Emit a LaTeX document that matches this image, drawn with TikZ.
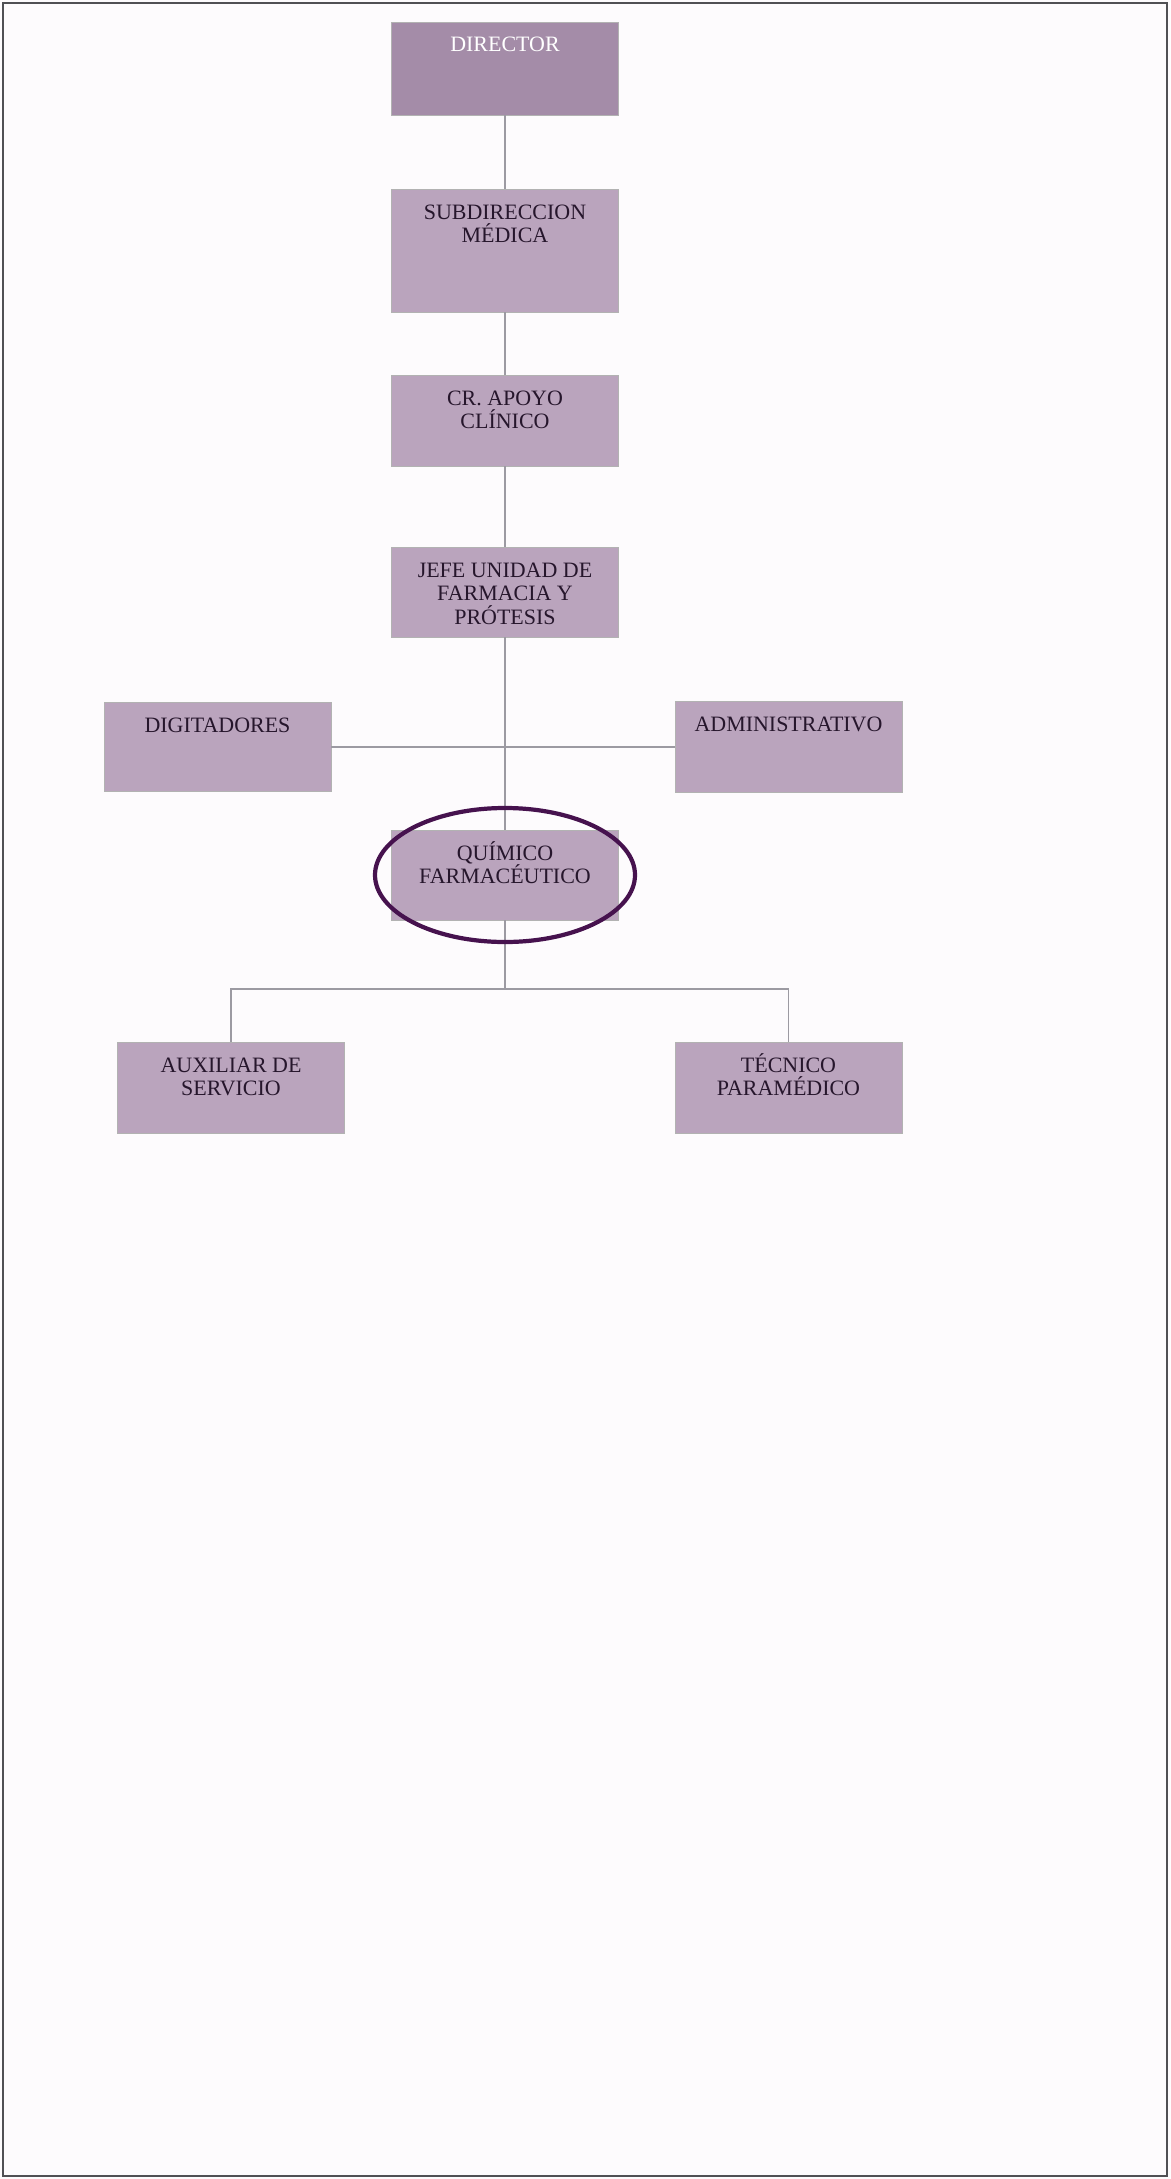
\documentclass[tikz,border=0pt]{standalone}
\usepackage{fontspec}
\setmainfont{Liberation Serif}
\usepackage{xcolor}

\definecolor{boxfill}{RGB}{186,164,189}
\definecolor{boxdark}{RGB}{164,140,168}
\definecolor{inkdark}{RGB}{38,22,44}
\definecolor{linegray}{RGB}{156,154,162}
\definecolor{ringpurple}{RGB}{70,18,78}
\definecolor{pagebg}{RGB}{253,251,253}
\definecolor{framegray}{RGB}{80,80,84}

\newcommand{\cargo}[2]{\parbox[c][#1][t]{4.54cm}{\centering\fontsize{12.5}{13.5}\selectfont\rule{0pt}{0.6cm}#2\par}}

\begin{document}
\begin{tikzpicture}[x=0.02cm,y=0.02cm,
    puesto/.style={draw=gray!60,line width=0.5pt,fill=boxfill,inner sep=0pt,text=inkdark},
    enlace/.style={draw=linegray,line width=1pt}]
            \useasboundingbox (0,0) rectangle (1170,-2179);
            \fill[pagebg] (0,0) rectangle (1170,-2179);
            \draw[framegray,line width=1.1pt] (3,-3) rectangle (1167,-2176);

            \node (director) at (505,-68.5) [puesto,fill=boxdark,text=white] {\cargo{1.86cm}{DIRECTOR}};
            \node (subdir) at (505,-250.5) [puesto] {\cargo{2.46cm}{SUBDIRECCION\\MÉDICA}};
            \node (apoyo) at (505,-420.5) [puesto] {\cargo{1.82cm}{CR. APOYO\\CLÍNICO}};
            \node (jefe) at (505,-592) [puesto] {\cargo{1.8cm}{JEFE UNIDAD DE\\FARMACIA Y\\PRÓTESIS}};
            \node (digit) at (217.5,-747) [puesto] {\cargo{1.78cm}{DIGITADORES}};
            \node (admin) at (788.5,-747) [puesto] {\cargo{1.82cm}{ADMINISTRATIVO}};
            \node (quimico) at (505,-875) [puesto] {\cargo{1.8cm}{QUÍMICO\\FARMACÉUTICO}};
            \node (auxiliar) at (231,-1087.5) [puesto] {\cargo{1.82cm}{AUXILIAR DE\\SERVICIO}};
            \node (tecnico) at (788.5,-1087.5) [puesto] {\cargo{1.82cm}{TÉCNICO\\PARAMÉDICO}};
            \coordinate (rama) at (505,-989);

            \draw[enlace] (director) -- (subdir) (subdir) -- (apoyo) (apoyo) -- (jefe) (jefe) -- (quimico);
            \draw[enlace] (digit) -- (admin);
            \draw[enlace] (quimico) -- (rama);
            \draw[enlace] (auxiliar.north) |- (rama) -| (tecnico.north);

            \draw[ringpurple,line width=2.4pt] (quimico.center) ellipse [x radius=130, y radius=67];
        \end{tikzpicture}
\end{document}
